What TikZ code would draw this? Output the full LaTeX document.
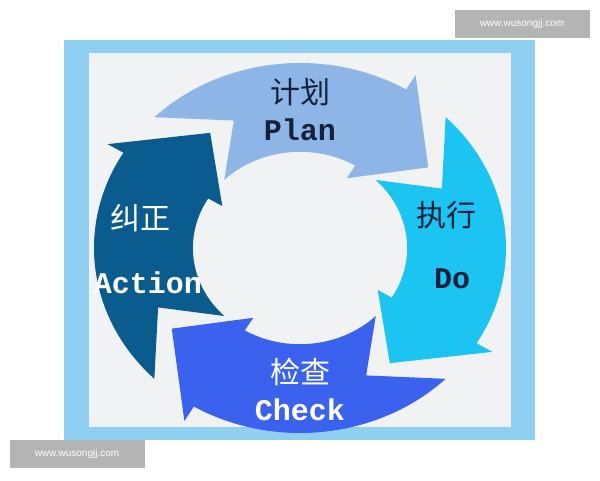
\documentclass[tikz,border=0pt]{standalone}
\usepackage{fontspec}
\newfontfamily\cjk{Noto Sans CJK SC}
\newfontfamily\monofont{Liberation Mono}
\newfontfamily\marksans{Liberation Sans}
\definecolor{frameblue}{HTML}{8FCFF2}
\definecolor{panelgray}{HTML}{F1F2F4}
\definecolor{planblue}{HTML}{8DB6E6}
\definecolor{doblue}{HTML}{1CC4F2}
\definecolor{checkblue}{HTML}{3A62EE}
\definecolor{actblue}{HTML}{0B5C8E}
\definecolor{markgray}{HTML}{B4B4B4}
\definecolor{navy}{HTML}{14213D}

\tikzset{
  cnlabel/.style={font=\cjk\fontsize{30}{30}\selectfont},
  enlabel/.style={font=\monofont\bfseries\fontsize{30}{30}\selectfont},
  watermark/.style={fill=markgray, text=white, font=\marksans\fontsize{10}{10}\selectfont,
    minimum width=135pt, minimum height=28pt, inner sep=0pt}
}

% one curved arrow of the cycle, tail angle #1, fill colour #2
\newcommand{\cyclearrow}[2]{%
  \fill[#2] (#1:1) arc[start angle=#1, end angle=#1-76, radius=1]
    -- (#1-76:1.09) -- (#1-100:0.76) -- (#1-76:0.44)
    -- (#1-76:0.52) arc[start angle=#1-76, end angle=#1, radius=0.52]
    -- (#1-20:0.76) -- cycle;}

\begin{document}
\begin{tikzpicture}[x=1pt, y=1pt]
\useasboundingbox (0,0) rectangle (600,480);
\fill[white] (0,0) rectangle (600,480);

% Frame and panel
\fill[frameblue] (64,40) rectangle (535,440);
\fill[panelgray] (89,53) rectangle (511,427);

% Arrows
\begin{scope}[shift={(300,232)}, xscale=206, yscale=185]
  \cyclearrow{135}{planblue}
  \cyclearrow{45}{doblue}
  \cyclearrow{-45}{checkblue}
  \cyclearrow{-135}{actblue}
\end{scope}

% Labels
\node[cnlabel, text=navy] (plancn) at (300,388) {计划};
\node[enlabel, text=navy] (planen) at (300,350) {Plan};
\node[cnlabel, text=navy] (docn) at (446,265) {执行};
\node[enlabel, text=navy] (doen) at (452,201) {Do};
\node[cnlabel, text=white] (checkcn) at (300,108) {检查};
\node[enlabel, text=white] (checken) at (300,70) {Check};
\node[cnlabel, text=white] (actcn) at (140,262) {纠正};
\node[enlabel, text=white] (acten) at (148,197) {Action};

% Watermarks
\node[watermark] (marktop) at (522,456) {www.wusongjj.com};
\node[watermark] (markbot) at (77,26) {www.wusongjj.com};

\end{tikzpicture}
\end{document}
